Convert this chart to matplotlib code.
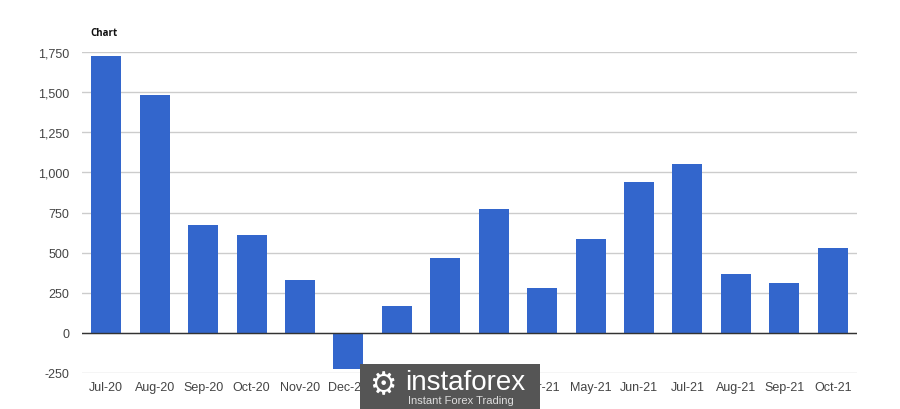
import matplotlib
matplotlib.use("Agg")
import matplotlib.pyplot as plt
from matplotlib.patches import Rectangle

months = ["Jul-20", "Aug-20", "Sep-20", "Oct-20", "Nov-20", "Dec-20", "Jan-21", "Feb-21",
          "Mar-21", "Apr-21", "May-21", "Jun-21", "Jul-21", "Aug-21", "Sep-21", "Oct-21"]
values = [1726, 1483, 672, 610, 332, -227, 166, 468, 770, 278, 583, 938, 1053, 366, 312, 531]
yticks = [-250, 0, 250, 500, 750, 1000, 1250, 1500, 1750]

plt.rcParams['font.family'] = ['Liberation Sans', 'DejaVu Sans']

fig = plt.figure(figsize=(9, 4.1), dpi=100)
ax = fig.add_axes([82/900, 36/410, (857-82)/900, (374-53)/410])

x = list(range(len(months)))
ax.bar(x, values, width=0.62, color="#3366cc", zorder=3)
ax.set_xlim(-0.5, len(months) - 0.5)
ax.set_ylim(-250, 1750)
ax.set_yticks(yticks)
ax.set_yticklabels([f"{v:,}" for v in yticks])
ax.set_xticks(x)
ax.set_xticklabels(months)
ax.tick_params(axis='both', length=0, labelsize=9, colors="#444444")
ax.tick_params(axis='y', pad=9)
ax.tick_params(axis='x', pad=6)
ax.grid(axis='y', color="#cccccc", linewidth=1, zorder=0)
ax.axhline(0, color="#333333", linewidth=1, zorder=4)
for s in ax.spines.values():
    s.set_visible(False)

fig.text(90/900, 1 - 33/410, "Chart", fontsize=7, fontweight='bold', color="#111111",
         va='center', ha='left', family=['Open Sans', 'DejaVu Sans'])

# watermark
fig.patches.append(Rectangle((360/900, 0), 180/900, 45/410, transform=fig.transFigure,
                             facecolor="#555555", edgecolor='none', zorder=10))
fig.text(405/900, 1 - 383/410, "instaforex", fontsize=20, color="white", va='center',
         ha='left', zorder=11)
fig.text(408/900, 1 - 401/410, "Instant Forex Trading", fontsize=8, color="#dddddd",
         va='center', ha='left', zorder=11)
fig.text(383/900, 1 - 386/410, "\u2699", fontsize=22, color="white", va='center',
         ha='center', zorder=11, family=['DejaVu Sans'])

fig.savefig("out.png", dpi=100, facecolor="white")
